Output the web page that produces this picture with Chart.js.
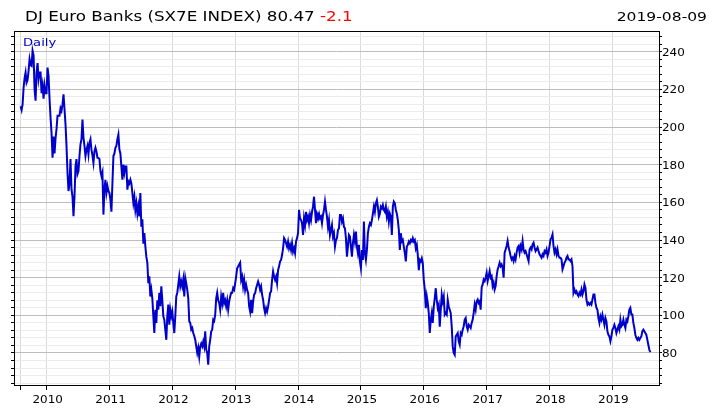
<!DOCTYPE html>
<html>
<head>
<meta charset="utf-8">
<script src="https://cdn.jsdelivr.net/npm/chart.js@4/dist/chart.umd.min.js"></script>
<style>
  html, body { margin: 0; padding: 0; background: #fff; }
  #wrap { width: 717px; height: 410px; }
</style>
</head>
<body>
<div id="wrap"><canvas id="chart" width="717" height="410"></canvas></div>
<script>
const TITLE = 'DJ Euro Banks (SX7E INDEX) 80.47';
const CHANGE = '-2.1';
const AS_OF = '2019-08-09';
const FREQ = 'Daily';

const firstYear = 2009.585;   // first sample
const lastYear = 2019.605;    // 2019-08-09
const yearTicks = [2010, 2011, 2012, 2013, 2014, 2015, 2016, 2017, 2018, 2019];

const prices = [
  211, 209, 212, 221, 226, 229, 223.6, 225, 230, 236,
  233, 232.5, 240.5, 238, 220, 214, 229, 234, 225.4, 229,
  229, 218, 222, 215, 222, 218, 218, 231.6, 227, 215,
  205, 197, 183.7, 195, 186, 194, 199, 206, 206, 206,
  210, 208.6, 212, 217.4, 209.4, 201.5, 190, 175.7, 166, 170,
  183, 167, 163, 152.6, 163, 179, 183, 175, 176.6, 184.6,
  190.8, 193.5, 204, 194.4, 190, 184.6, 188, 190, 185.5, 191.7,
  193.5, 188, 185, 181, 187, 189, 187, 183.7, 183.5, 183,
  176.6, 174, 176, 153.5, 167, 172, 165, 168.6, 166, 165,
  161.5, 155, 170, 184.6, 186, 189, 190, 193.5, 196, 188,
  186, 179, 172, 180, 175.7, 179,
  179, 166.7, 171, 170,
  172, 170, 165, 159.6, 163, 156, 159.6, 154, 158, 152.6,
  165, 147, 151, 138, 143.7, 136.6, 131, 128, 117, 120.7,
  110, 113.6, 109, 99.5, 90.6, 103, 96, 108, 103, 112,
  104.8, 115.4, 108, 99.5, 97.7, 92.4, 87, 99.5, 105.7, 95,
  103, 99.5, 102, 96, 90.6, 99.5, 110, 112, 116.3, 120.7,
  115.4, 118, 115.4, 119, 110, 120, 117, 113.6, 109, 96.8,
  96, 92.4, 93.3, 90.6, 89, 87, 83.5, 80, 82.7, 78,
  83.5, 85, 83.5, 86, 83.5, 91.5, 81.8, 80, 73.8, 83.5,
  87, 91.5, 92.4, 97.7, 97, 100.4, 109, 112, 108, 106.5,
  103, 110, 106.5, 112, 106.5, 108, 104.8, 108, 103, 107.4,
  110, 112, 112, 114.5, 113.6, 117, 120.7, 125, 126, 127, 128,
  118.8, 120.6, 115.3, 118.8, 113.5, 116.2, 113.5, 111.8, 104.7, 102,
  108.2, 101.2, 107.4, 111, 111.8, 114.4, 116.2, 118, 116.2, 113.5,
  115.3, 111, 108.2, 103.8, 101.2, 103.8, 102, 104.7, 108.2, 111.8,
  112.7, 118.8, 123.3, 120.6, 118.8, 120.6, 117, 124, 126, 128.6,
  129.4, 132, 135.6, 141, 140, 138.3, 136.5, 139.2, 135.6, 137.4,
  134.7, 138.3, 133.8, 135.6, 133, 139.2, 141, 143.6, 156, 151.5,
  150.6, 148.9, 142.7, 151.5, 148, 155, 150.6, 152.4, 148.9, 153.3,
  150.6, 155, 157.7, 163, 156, 148.9, 154, 152.4, 154, 151.5,
  152.4, 148.9, 153.3, 156, 160.4, 156, 152.4, 147, 150.6, 142.7,
  145.3, 148, 141.8, 143.6, 136.5, 140, 141, 145.3, 146.2, 153.3,
  153.3, 149.8, 151.5, 147, 146.2, 141, 131.2, 136.5, 142.7, 141.8,
  136.5, 131.2, 138.3, 142.7, 139.2, 144.5, 136.5, 133, 137.4, 128.6,
  125, 134.7, 129.4, 149.8, 133, 129.4, 134.7, 143.6, 147, 148.9,
  148, 150.6, 154, 157.7, 155, 159.5, 161.2, 157.7, 152.4, 154,
  157.7, 156.8, 158.6, 156, 155, 157.7, 152.4, 155, 149.8, 154,
  152.4, 142.7, 157.7, 160.4, 159.5, 156, 154, 150.6, 145.3, 134.7,
  143.6, 139.2, 140, 136.5, 133, 128.6, 136.5, 137.4, 139.2, 138.3,
  140, 139.2, 141, 139.2, 140, 135.6, 137.4, 132, 124, 129.4,
  128.6, 130.3, 127.7, 118.8, 113.5, 103.8, 110, 106.5, 101.2, 90.6,
  97.6, 101.2, 96, 104.7, 109.1, 114.4, 108.2, 103.8, 105.6, 94,
  103, 110.9, 107.4, 110, 100.3, 101.2, 100.3, 108.2, 104.7, 103,
  101.2, 94, 83.5, 80, 79, 88.8, 89.7, 90.6, 86.2, 84.4,
  90.6, 89.7, 92.4, 94.2, 97.7, 98.6, 94.2, 92.4, 95, 94.2,
  93.3, 96, 97.7, 101.3, 105.7, 103, 107.5, 108.4, 106.6, 107.5,
  103, 115, 116.4, 119, 118.2, 120, 122.6, 118.2, 120.8, 123.5,
  120, 120.8, 115.5, 117.3, 113.7, 115.5, 120.8, 124.4, 126.1, 128,
  126.1, 127, 125.3, 120, 133.3, 135, 136.8, 139.5, 136, 134.1,
  131.5, 129.7, 130.6, 128.8, 131.5, 129.7, 133.3, 136, 136.8, 133.3,
  136.8, 135, 139.5, 135, 133.3, 134.1, 132.4, 130.6, 128.8, 135,
  136, 135, 137.7, 138.6, 136, 134.1, 135, 136, 134.1, 132.4,
  131.5, 130.6, 132.4, 131.5, 134.1, 133.3, 135, 131.5, 133.3, 136.8,
  140.4, 141.2, 143, 136.8, 133.3, 135, 132.4, 135, 131.5, 130.6,
  130.6, 129.7, 124.4, 126.1, 128, 128.8, 130.6, 131.5, 129.7, 129.7,
  128.8, 129.7, 126.1, 112, 113.7, 112, 112.8, 111, 110.2, 112,
  111, 113.7, 111, 112.8, 116.4, 114.6, 108.4, 105.7, 106.6, 105.7,
  106.6, 105.7, 108.4, 111, 111, 106.6, 104, 103, 98.6, 96,
  99.5, 97.7, 100.4, 97.7, 95, 98.6, 96.8, 91.5, 89.7, 88.8,
  86.2, 88.8, 92.4, 93.3, 95, 93.3, 90.6, 92.4, 94.2, 92.4,
  97.7, 94.2, 95, 97.7, 95, 93.3, 97.7, 96.8, 99.5, 103,
  104, 100.4, 100.4, 96, 93.3, 89.7, 88, 87, 88, 87,
  88, 88.8, 91.5, 92.4, 91.5, 90.6, 89.7, 87, 84.4, 81.7, 80.47
];

const FONT = 'DejaVu Sans';
const SX = 1.195;   // the reference text is drawn wide
const yTickVals = [];
for (let v = 64; v <= 248; v += 4) yTickVals.push(v);

const step = (lastYear - firstYear) / (prices.length - 1);
const points = prices.map((p, i) => ({ x: firstYear + i * step, y: p }));

function wideText(ctx, text, x, y, align) {
    const w = ctx.measureText(text).width * SX;
    let left = x;
    if (align === 'right') left = x - w;
    else if (align === 'center') left = x - w / 2;
    ctx.save();
    ctx.translate(left, y);
    ctx.scale(SX, 1);
    ctx.textAlign = 'left';
    ctx.fillText(text, 0, 0);
    ctx.restore();
    return w;
}

// frame, header and axis labels
const textPlugin = {
    id: 'texts',
    afterDraw(chart) {
        const { ctx, chartArea: a, scales } = chart;
        ctx.save();
        ctx.strokeStyle = '#000';
        ctx.lineWidth = 1;
        ctx.strokeRect(Math.round(a.left) + 0.5, Math.round(a.top) + 0.5, Math.round(a.right - a.left), Math.round(a.bottom - a.top));

        ctx.textBaseline = 'alphabetic';
        ctx.font = '14px "' + FONT + '"';
        ctx.fillStyle = '#000';
        const w = wideText(ctx, TITLE + ' ', 25, 21, 'left');
        ctx.fillStyle = '#ff0000';
        wideText(ctx, CHANGE, 25 + w, 21, 'left');
        ctx.fillStyle = '#000';
        ctx.font = '13px "' + FONT + '"';
        wideText(ctx, AS_OF, 707, 21, 'right');

        ctx.font = '11px "' + FONT + '"';
        ctx.fillStyle = '#0000cc';
        wideText(ctx, FREQ, a.left + 9, a.top + 15, 'left');

        ctx.fillStyle = '#000';
        ctx.font = '10px "' + FONT + '"';
        yTickVals.filter(v => v % 20 === 0).forEach(v => {
            wideText(ctx, String(v), a.right + 3, scales.y.getPixelForValue(v) + 4, 'left');
        });
        yearTicks.forEach(yr => {
            wideText(ctx, String(yr), scales.x.getPixelForValue(yr) + 1, a.bottom + 18, 'center');
        });
        ctx.restore();
    }
};

new Chart(document.getElementById('chart'), {
    type: 'line',
    data: {
        datasets: [{
            data: points,
            yAxisID: 'y',
            borderColor: '#0000cd',
            borderWidth: 2,
            pointRadius: 0,
            tension: 0,
            fill: false,
        }]
    },
    options: {
        responsive: false,
        animation: false,
        devicePixelRatio: 1,
        layout: { padding: { top: 31, left: 10, right: 0, bottom: 0 } },
        plugins: { legend: { display: false }, tooltip: { enabled: false } },
        scales: {
            x: {
                type: 'linear', position: 'bottom',
                min: 2009.48, max: 2019.743,
                afterBuildTicks: s => { s.ticks = [firstYear, ...yearTicks].map(v => ({ value: v })); },
                afterFit: s => { s.height = 25; },
                ticks: { autoSkip: false, maxRotation: 0, callback: () => '' },
                grid: { color: '#dadada', lineWidth: 1, tickLength: 5, tickColor: '#000' },
                border: { color: '#000', width: 1 },
            },
            y: {
                position: 'right',
                min: 63, max: 251,
                afterBuildTicks: s => { s.ticks = yTickVals.map(v => ({ value: v })); },
                afterFit: s => { s.width = 58; },
                ticks: { autoSkip: false, callback: () => '' },
                grid: {
                    color: c => (c.tick && c.tick.value % 20 === 0) ? '#bdbdbd' : '#ebebeb',
                    lineWidth: 1, tickLength: 3, tickColor: '#000',
                },
                border: { color: '#000', width: 1 },
            },
            yl: {
                position: 'left',
                min: 63, max: 251,
                afterBuildTicks: s => { s.ticks = yTickVals.map(v => ({ value: v })); },
                afterFit: s => { s.width = 4; },
                ticks: { autoSkip: false, padding: 0, callback: () => '' },
                grid: { drawOnChartArea: false, tickLength: 3, tickColor: '#000' },
                border: { color: '#000', width: 1 },
            }
        }
    },
    plugins: [textPlugin]
});
</script>
</body>
</html>
